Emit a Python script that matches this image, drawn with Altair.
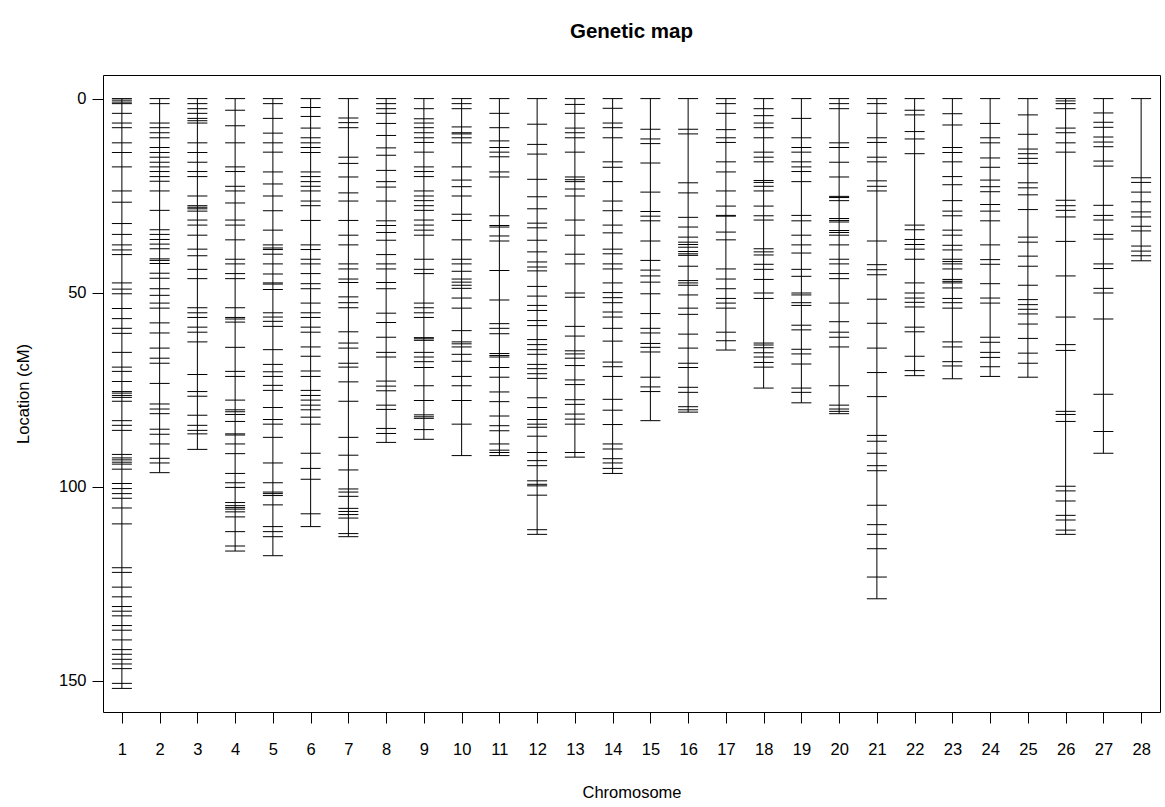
import altair as alt
import pandas as pd

chromosomes = list(range(1, 29))

chr01 = [0, 0.4, 0.9, 1.3, 3.8, 6.3, 7.5, 11.4, 13.9, 17.6, 23.8, 26.7, 32.2, 35.0, 37.7, 39.0, 40.2,
         47.5, 49.1, 50.3, 54.1, 56.7, 59.2, 60.5, 65.4, 69.2, 70.3, 72.9, 75.5, 75.9, 76.5, 77.0, 78.0,
         83.0, 84.2, 85.5, 91.7, 92.6, 93.1, 93.7, 94.2, 95.5, 99.2, 100.5, 101.8, 103.0, 105.5, 109.6,
         120.9, 122.1, 125.9, 128.4, 130.9, 132.1, 133.3, 135.8, 137.0, 139.5, 142.0, 143.2, 144.5,
         145.7, 146.9, 150.7, 152.0]
chr02 = [0, 1.3, 6.3, 7.5, 8.8, 10.1, 12.6, 13.9, 15.1, 16.4, 17.6, 18.8, 20.1, 21.3, 23.8, 28.8, 33.8,
         35.0, 36.3, 37.5, 38.7, 41.3, 41.7, 42.5, 45.0, 46.3, 49.0, 50.7, 52.7, 54.0, 57.8, 60.4, 64.3,
         66.9, 68.2, 73.4, 78.7, 80.0, 81.2, 85.2, 86.5, 89.0, 92.7, 93.9, 96.4]
chr03 = [0, 1.3, 2.6, 3.8, 5.1, 5.7, 6.3, 11.4, 13.9, 16.4, 18.8, 20.1, 25.1, 27.6, 28.0, 28.4, 29.0,
         31.3, 32.6, 35.2, 38.8, 40.5, 44.0, 46.4, 53.9, 55.2, 56.4, 58.9, 60.2, 62.7, 71.1, 75.5, 76.7,
         81.6, 84.2, 85.5, 86.4, 90.4]
chr04 = [0, 3.0, 7.0, 11.4, 17.6, 18.8, 22.6, 23.8, 26.9, 31.3, 32.6, 36.4, 41.4, 42.6, 45.1, 46.4,
         53.9, 56.4, 56.8, 57.6, 64.1, 70.3, 71.6, 77.7, 80.2, 80.7, 81.4, 83.2, 86.4, 86.7, 89.0, 91.5,
         96.6, 99.0, 100.2, 104.1, 104.9, 105.4, 105.8, 106.5, 107.8, 111.6, 115.3, 116.6]
chr05 = [0, 1.3, 5.1, 8.9, 11.4, 13.8, 18.9, 22.0, 25.1, 28.9, 33.9, 37.7, 38.5, 38.9, 40.1, 42.6,
         45.2, 47.5, 47.8, 49.2, 55.2, 56.3, 57.4, 58.7, 64.7, 68.5, 70.4, 71.6, 73.9, 75.2, 79.6, 82.7,
         83.9, 87.3, 93.9, 99.0, 101.4, 101.8, 102.3, 104.7, 110.3, 111.6, 112.9, 117.8]
chr06 = [0, 2.3, 4.6, 7.6, 10.1, 11.4, 12.6, 13.9, 18.9, 20.1, 21.4, 22.6, 23.8, 26.4, 27.6, 31.4,
         37.7, 38.9, 41.4, 42.6, 45.1, 47.7, 49.0, 52.7, 55.2, 56.4, 58.9, 60.2, 64.0, 66.4, 70.2, 71.6,
         75.2, 76.5, 77.7, 79.0, 80.2, 82.1, 83.9, 91.4, 95.3, 98.1, 107.0, 110.3]
chr07 = [0, 5.0, 6.2, 7.5, 15.1, 16.7, 20.2, 24.3, 26.4, 31.4, 35.2, 37.7, 42.6, 43.9, 46.5, 47.4,
         51.1, 52.6, 53.9, 60.1, 63.0, 64.3, 68.2, 69.2, 73.0, 78.0, 87.3, 91.9, 95.7, 100.6, 101.4,
         102.5, 105.6, 106.4, 107.2, 108.1, 112.1, 112.9]
chr08 = [0, 1.3, 2.6, 3.8, 6.4, 9.5, 12.7, 14.6, 18.5, 21.4, 22.8, 26.4, 31.5, 32.7, 34.5, 36.5, 40.2,
         42.6, 43.9, 47.4, 49.0, 55.3, 57.7, 61.5, 65.4, 66.6, 72.8, 74.1, 75.3, 79.0, 80.1, 85.0, 86.3,
         88.6]
chr09 = [0, 2.6, 5.2, 6.3, 7.5, 8.8, 10.1, 11.3, 13.8, 17.6, 18.8, 20.1, 23.8, 25.1, 26.3, 27.6, 28.8,
         31.3, 32.6, 33.9, 35.2, 41.4, 44.0, 45.1, 52.7, 53.9, 55.2, 56.4, 61.6, 61.9, 62.3, 65.4, 66.6,
         67.8, 69.3, 74.0, 77.8, 81.5, 82.0, 82.4, 85.3, 87.8]
chr10 = [0, 1.3, 2.6, 7.3, 8.8, 9.1, 10.1, 11.4, 17.6, 21.0, 22.7, 25.1, 29.8, 31.4, 36.4, 41.4, 42.6,
         44.5, 46.5, 47.3, 48.1, 48.9, 51.4, 54.0, 59.8, 62.7, 63.2, 64.0, 65.9, 67.7, 71.6, 74.0, 77.8,
         83.9, 92.0]
chr11 = [0, 3.8, 7.5, 10.9, 12.6, 13.8, 15.0, 18.9, 20.2, 30.2, 32.7, 33.1, 35.4, 36.7, 44.3, 51.9,
         58.0, 59.2, 60.6, 65.7, 66.2, 66.6, 69.3, 71.8, 75.6, 78.1, 81.8, 84.3, 85.6, 89.0, 90.6, 91.2,
         92.0]
chr12 = [0, 6.6, 11.8, 14.3, 20.8, 25.3, 28.4, 32.1, 33.3, 36.5, 39.5, 42.1, 43.4, 44.4, 48.4, 50.9,
         53.3, 54.6, 57.2, 58.5, 62.1, 63.4, 64.7, 65.9, 68.5, 69.6, 70.9, 72.1, 77.1, 79.6, 82.7, 83.9,
         84.7, 87.0, 91.2, 93.3, 94.6, 98.5, 99.4, 99.8, 102.2, 111.1, 112.3]
chr13 = [0, 1.5, 3.8, 7.6, 8.8, 10.1, 13.8, 20.2, 20.9, 21.4, 23.3, 25.1, 31.3, 35.2, 40.1, 42.6, 50.1,
         51.2, 58.7, 61.2, 65.0, 65.8, 66.9, 68.8, 72.5, 73.7, 77.6, 78.8, 81.3, 82.6, 83.9, 91.2, 92.4]
chr14 = [0, 2.5, 6.3, 7.5, 10.1, 16.3, 17.7, 21.4, 26.4, 28.9, 32.6, 34.6, 38.8, 40.0, 42.6, 43.9,
         47.5, 50.0, 51.3, 52.6, 55.0, 56.3, 59.2, 62.5, 67.9, 69.1, 71.6, 77.5, 80.3, 84.0, 89.0, 90.3,
         92.8, 93.9, 95.3, 96.6]
chr15 = [0, 7.9, 10.4, 11.6, 16.6, 24.1, 29.1, 30.3, 31.5, 36.7, 41.7, 44.2, 45.7, 47.3, 50.3, 55.4,
         59.2, 60.4, 63.1, 64.1, 65.3, 71.8, 74.3, 75.5, 83.0]
chr16 = [0, 7.9, 9.1, 21.7, 24.3, 30.6, 33.1, 35.7, 37.0, 37.6, 38.3, 39.4, 40.0, 40.4, 43.2, 46.9,
         47.5, 48.1, 50.6, 54.0, 55.6, 60.7, 64.3, 68.2, 69.3, 74.4, 75.7, 79.4, 80.2, 80.8]
chr17 = [0, 1.3, 3.8, 8.0, 10.1, 11.3, 16.3, 18.9, 23.8, 27.7, 30.1, 30.3, 34.4, 36.4, 43.9, 46.5,
         49.0, 51.5, 52.7, 54.0, 60.2, 62.4, 64.8]
chr18 = [0, 2.6, 4.4, 6.3, 7.5, 10.1, 13.8, 15.1, 16.3, 21.1, 21.6, 22.6, 23.8, 27.7, 30.2, 31.3, 38.7,
         39.5, 40.3, 42.7, 44.0, 46.6, 50.1, 51.5, 63.0, 63.5, 64.2, 65.5, 66.6, 68.0, 69.2, 74.6]
chr19 = [0, 5.1, 10.1, 12.6, 13.8, 16.3, 17.6, 18.8, 21.4, 30.1, 31.5, 35.2, 37.7, 39.8, 44.0, 45.8,
         50.1, 50.6, 52.6, 53.3, 58.4, 59.6, 64.6, 65.8, 68.4, 74.6, 75.7, 78.4]
chr20 = [0, 1.3, 2.6, 11.4, 12.6, 16.4, 20.2, 25.2, 25.5, 26.3, 30.9, 31.4, 31.8, 34.0, 34.5, 35.2,
         37.7, 41.4, 42.6, 45.1, 46.4, 52.7, 57.5, 60.2, 61.5, 64.0, 74.0, 79.0, 80.0, 80.6, 81.2]
chr21 = [0, 1.3, 3.8, 10.1, 11.3, 15.1, 16.3, 21.2, 22.6, 23.8, 36.7, 42.8, 44.1, 45.4, 51.7, 57.9,
         64.3, 70.6, 76.8, 86.8, 88.3, 91.4, 94.6, 95.9, 104.8, 109.8, 112.3, 116.0, 123.3, 128.9]
chr22 = [0, 3.0, 4.2, 8.5, 10.4, 14.2, 32.6, 33.8, 36.3, 37.6, 38.8, 41.4, 47.5, 50.1, 51.4, 52.5,
         53.7, 58.9, 60.1, 66.4, 70.1, 71.4]
chr23 = [0, 3.9, 6.8, 12.6, 13.9, 16.3, 20.1, 22.2, 26.3, 29.0, 30.2, 33.9, 35.2, 37.8, 39.0, 41.4,
         42.0, 42.6, 43.9, 46.6, 47.1, 47.5, 48.8, 51.5, 52.6, 54.0, 62.7, 64.0, 67.8, 68.9, 72.2]
chr24 = [0, 6.4, 10.1, 11.4, 15.3, 17.7, 21.0, 22.7, 24.0, 27.3, 29.0, 31.5, 37.7, 41.5, 42.7, 47.7,
         51.4, 52.7, 61.5, 62.8, 65.4, 66.7, 69.1, 71.6]
chr25 = [0, 4.2, 9.2, 13.0, 14.2, 15.4, 16.7, 21.7, 23.0, 24.8, 28.6, 35.7, 37.0, 40.6, 43.2, 48.1,
         51.8, 53.1, 54.3, 55.5, 58.1, 61.8, 65.6, 68.2, 71.8]
chr26 = [0, 0.6, 1.3, 2.6, 7.6, 8.8, 11.4, 13.8, 26.2, 27.6, 28.8, 30.5, 36.8, 45.7, 56.3, 63.4, 64.9,
         80.6, 81.4, 83.2, 99.9, 101.1, 103.7, 107.4, 108.6, 111.2, 112.3]
chr27 = [0, 3.7, 6.1, 7.4, 9.9, 11.2, 12.4, 16.1, 17.4, 27.5, 30.1, 31.3, 35.0, 36.2, 42.6, 43.8, 48.9,
         50.1, 56.8, 76.2, 85.8, 91.4]
chr28 = [0, 20.4, 21.6, 24.1, 26.6, 29.2, 30.5, 32.9, 34.1, 38.0, 39.3, 40.5, 41.8]

markers = [chr01, chr02, chr03, chr04, chr05, chr06, chr07, chr08, chr09, chr10, chr11, chr12, chr13,
           chr14, chr15, chr16, chr17, chr18, chr19, chr20, chr21, chr22, chr23, chr24, chr25, chr26,
           chr27, chr28]

y_ticks = [0, 50, 100, 150]

marker_df = pd.DataFrame(
    [{"chr": c, "pos": p} for c, m in zip(chromosomes, markers) for p in m]
)
chrom_df = pd.DataFrame(
    {"chr": chromosomes, "start": [min(m) for m in markers], "end": [max(m) for m in markers]}
)

FONT = "Liberation Sans"
W, H = 1057, 637

x_scale = alt.Scale(domain=[0.5, 28.5], nice=False, zero=False)
y_scale = alt.Scale(domain=[-6.08, 158.08], reverse=True, nice=False, zero=False)

x_axis = alt.Axis(
    values=chromosomes, title="Chromosome", labelAngle=0, labelPadding=18,
    titleX=W / 2, titleY=80, titleBaseline="middle", titleAlign="center",
)
y_axis = alt.Axis(
    values=y_ticks, title="Location (cM)", labelAngle=0, labelPadding=6,
    titleX=-80, titleY=H / 2, titleAngle=270, titleBaseline="middle", titleAlign="center",
)

lines = alt.Chart(chrom_df).mark_rule(color="black", strokeWidth=1).encode(
    x=alt.X("chr:Q", scale=x_scale, axis=x_axis),
    y=alt.Y("start:Q", scale=y_scale, axis=y_axis),
    y2="end:Q",
)

ticks = alt.Chart(marker_df).mark_tick(
    color="black", orient="horizontal", size=20, thickness=1, opacity=1
).encode(
    x=alt.X("chr:Q", scale=x_scale, axis=x_axis),
    y=alt.Y("pos:Q", scale=y_scale, axis=y_axis),
)

chart = alt.layer(lines, ticks).properties(
    width=W, height=H,
    title=alt.TitleParams(
        "Genetic map", font=FONT, fontSize=20.5, fontWeight="bold", anchor="middle",
        baseline="middle", offset=23, color="black",
    ),
    autosize=alt.AutoSizeParams(type="none"),
    padding={"left": 103, "top": 75, "right": 5, "bottom": 95},
).configure_view(
    stroke="black", strokeWidth=1
).configure_axis(
    domain=False, grid=False, tickColor="black", tickSize=11, tickWidth=1,
    labelFont=FONT, labelFontSize=16.5, labelColor="black",
    titleFont=FONT, titleFontSize=16.5, titleFontWeight="normal", titleColor="black",
)

chart.save("out.html", embed_options={"renderer": "svg", "actions": False})
